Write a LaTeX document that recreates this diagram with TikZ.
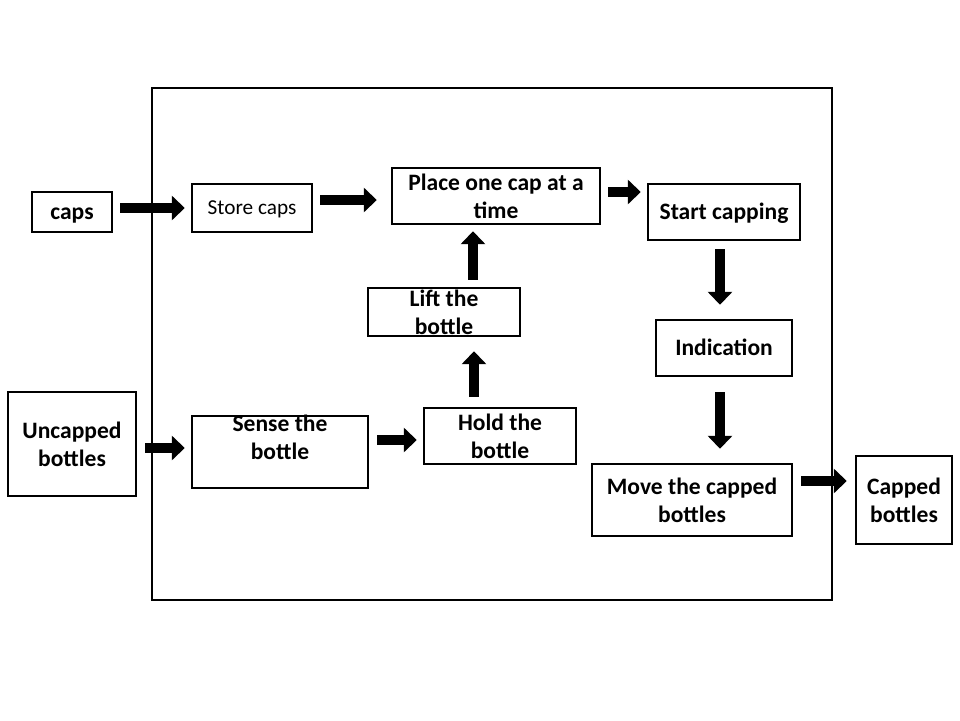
\documentclass[tikz,border=0pt]{standalone}
\usepackage{fontspec}
\setmainfont{Carlito}
\usetikzlibrary{arrows.meta}

\begin{document}
\begin{tikzpicture}[
  x=0.02cm, y=-0.02cm,
  stage/.style={
    rectangle, draw=black, line width=1.4pt, inner sep=0pt,
    align=center, font=\fontsize{13.4pt}{15.9pt}\selectfont\bfseries
  },
  oneline/.style={text height=8.6pt, text depth=0pt},
  flow/.style={
    line width=6.2pt,
    -{Triangle[length=0.26cm, width=0.48cm]},
    shorten <=0.14cm, shorten >=0.12cm
  }
]
\useasboundingbox (0,0) rectangle (960,720);

% Machine frame
\draw[line width=1.2pt] (152,88) rectangle (832,600);

% Inputs and output
\node[stage, oneline, minimum width=1.6cm, minimum height=0.8cm] (caps) at (72,212) {caps};
\node[stage, minimum width=2.56cm, minimum height=2.08cm] (uncapped) at (72,444) {Uncapped\\bottles};
\node[stage, minimum width=1.92cm, minimum height=1.76cm] (capped) at (904,500) {Capped\\bottles};

% Process steps
\node[stage, oneline, text height=7.8pt, minimum width=2.4cm, minimum height=0.96cm,
  font=\fontsize{12.1pt}{14pt}\selectfont] (store) at (252,208) {Store caps};
\node[stage, minimum width=4.16cm, minimum height=1.12cm] (place) at (496,196) {Place one cap at a\\time};
\node[stage, oneline, minimum width=3.04cm, minimum height=1.12cm] (start) at (724,212) {Start capping};
\node[stage, minimum width=3.04cm, minimum height=0.96cm] (lift) at (444,312) {Lift the\\bottle};
\node[stage, oneline, minimum width=2.72cm, minimum height=1.12cm] (indication) at (724,348) {Indication};
\node[stage, text height=24.5pt, text depth=15.9pt, minimum width=3.52cm, minimum height=1.44cm] (sense) at (280,452) {Sense the\\bottle};
\node[stage, minimum width=3.04cm, minimum height=1.12cm] (hold) at (500,436) {Hold the\\bottle};
\node[stage, minimum width=4cm, minimum height=1.44cm] (move) at (692,500) {Move the capped\\bottles};

% Flow arrows
\draw[flow] (caps.east |- store.west) -- (store.west);
\draw[flow, shorten >=0.28cm] ([yshift=0.16cm]store.east) -- ([yshift=0.16cm]store.east -| place.west);
\draw[flow] ([yshift=0.08cm]place.east) -- ([yshift=0.08cm]place.east -| start.west);
\draw[flow] ([xshift=0.58cm]lift.north) -- ([xshift=0.58cm]lift.north |- place.south);
\draw[flow, shorten <=0.2cm, shorten >=0.28cm] ([xshift=-0.52cm]hold.north) -- ([xshift=-0.52cm]hold.north |- lift.south);
\draw[flow, shorten <=0.16cm, shorten >=0.28cm] ([xshift=-0.08cm]start.south) -- ([xshift=-0.08cm]start.south |- indication.north);
\draw[flow, shorten <=0.3cm, shorten >=0.28cm] ([xshift=-0.08cm]indication.south) -- ([xshift=-0.08cm]indication.south |- move.north);
\draw[flow, shorten <=0.16cm] ([yshift=-0.08cm]uncapped.east) -- ([yshift=-0.08cm]uncapped.east -| sense.west);
\draw[flow, shorten <=0.16cm] ([yshift=0.24cm]sense.east) -- ([yshift=0.24cm]sense.east -| hold.west);
\draw[flow, shorten <=0.16cm, shorten >=0.16cm] ([yshift=0.38cm]move.east) -- ([yshift=0.38cm]move.east -| capped.west);

\end{tikzpicture}
\end{document}
